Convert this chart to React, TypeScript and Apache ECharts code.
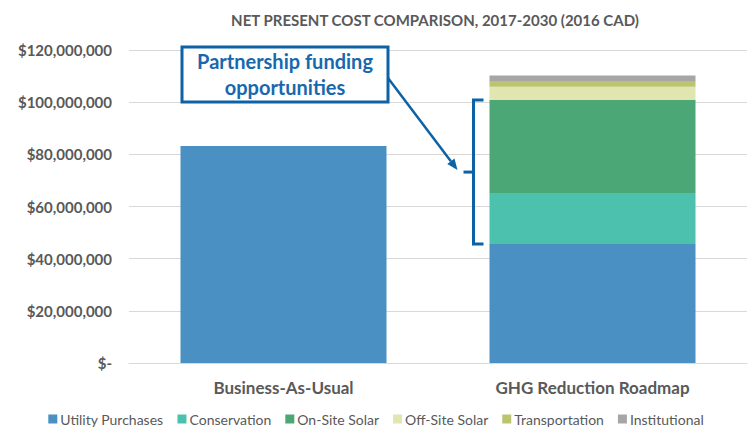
import React, { useEffect, useRef } from "react";
import * as echarts from "echarts";

const categories = ["Business-As-Usual", "GHG Reduction Roadmap"];
const seriesNames = ["Utility Purchases", "Conservation", "On-Site Solar", "Off-Site Solar", "Transportation", "Institutional"];
const utilityPurchases = [83200000, 45600000];
const conservation = [0, 19600000];
const onSiteSolar = [0, 35600000];
const offSiteSolar = [0, 5100000];
const transportation = [0, 1900000];
const institutional = [0, 2400000];
const colors = ["#4A90C2", "#4CC2AE", "#4BA876", "#E1E5B0", "#BBC46F", "#A6A6A6"];
const yTicks = { min: 0, max: 120000000, interval: 20000000 };

const FONT = "Lato";
const GREY = "#595959";
const BLUE = "#0D62A6";

function fmt(v: number) {
  if (v === 0) return "$-";
  return "$" + v.toLocaleString("en-US");
}

export default function App() {
  const ref = useRef<HTMLDivElement>(null);
  useEffect(() => {
    if (!ref.current) return;
    const chart = echarts.init(ref.current, null, { renderer: "svg" });
    const values = [utilityPurchases, conservation, onSiteSolar, offSiteSolar, transportation, institutional];
    chart.setOption({
      animation: false,
      title: {
        text: "NET PRESENT COST COMPARISON, 2017-2030 (2016 CAD)",
        left: 430,
        textAlign: "center",
        top: 7,
        textStyle: { fontFamily: FONT, fontSize: 15, fontWeight: "bold", color: GREY },
      },
      legend: {
        bottom: -3,
        left: "center",
        itemWidth: 9,
        itemHeight: 9,
        itemGap: 14,
        icon: "rect",
        textStyle: { fontFamily: FONT, fontSize: 14, color: GREY, padding: [0, 0, 0, -2] },
        data: seriesNames,
      },
      grid: { left: 129, right: 5, top: 50, bottom: 65 },
      xAxis: {
        type: "category",
        data: categories,
        axisLine: { lineStyle: { color: "#D9D9D9", width: 1 } },
        axisTick: { show: false },
        axisLabel: { fontFamily: FONT, fontSize: 17, fontWeight: "bold", color: GREY, margin: 16 },
      },
      yAxis: {
        type: "value",
        min: yTicks.min,
        max: yTicks.max,
        interval: yTicks.interval,
        axisLine: { show: false },
        axisTick: { show: false },
        splitLine: { lineStyle: { color: "#D9D9D9", width: 1 } },
        axisLabel: { fontFamily: FONT, fontSize: 15, fontWeight: "bold", color: GREY, margin: 17, formatter: fmt },
      },
      series: seriesNames.map((name, i) => ({
        name,
        type: "bar",
        stack: "total",
        data: values[i],
        barWidth: 206,
        itemStyle: { color: colors[i] },
      })),
    });

    const top = chart.convertToPixel({ xAxisIndex: 0, yAxisIndex: 0 }, [1, utilityPurchases[1] + conservation[1] + onSiteSolar[1]]) as number[];
    const bot = chart.convertToPixel({ xAxisIndex: 0, yAxisIndex: 0 }, [1, utilityPurchases[1]]) as number[];
    const barLeft = top[0] - 103;
    const bx = barLeft - 16;
    const mid = (top[1] + bot[1]) / 2;
    const tip = [bx - 16, mid - 2];
    const start = [388, 78];
    const dx = tip[0] - start[0], dy = tip[1] - start[1];
    const len = Math.sqrt(dx * dx + dy * dy);
    const ux = dx / len, uy = dy / len;
    const base = [tip[0] - 11 * ux, tip[1] - 11 * uy];
    const px = -uy * 4.5, py = ux * 4.5;
    const ls = { stroke: BLUE, lineWidth: 3 };

    chart.setOption({
      graphic: [
        { type: "rect", shape: { x: 182, y: 47, width: 206, height: 55 }, style: { fill: "#fff", stroke: BLUE, lineWidth: 3 }, z: 100 },
        {
          type: "text",
          x: 285,
          y: 74,
          style: {
            text: "Partnership funding\nopportunities",
            fill: "#1868AE",
            font: `bold 20px ${FONT}`,
            align: "center",
            verticalAlign: "middle",
            lineHeight: 26,
          },
          z: 101,
        },
        { type: "line", shape: { x1: start[0], y1: start[1], x2: base[0], y2: base[1] }, style: { stroke: BLUE, lineWidth: 2.5 }, z: 100 },
        {
          type: "polygon",
          shape: { points: [tip, [base[0] + px, base[1] + py], [base[0] - px, base[1] - py]] },
          style: { fill: BLUE },
          z: 100,
        },
        { type: "polyline", shape: { points: [[bx + 10, top[1]], [bx, top[1]], [bx, bot[1]], [bx + 10, bot[1]]] }, style: { ...ls, fill: null }, z: 100 },
        { type: "line", shape: { x1: bx - 10, y1: mid, x2: bx, y2: mid }, style: ls, z: 100 },
      ],
    });
    return () => chart.dispose();
  }, []);
  return <div ref={ref} style={{ width: 752, height: 428, position: "absolute", left: 0, top: 0 }} />;
}
